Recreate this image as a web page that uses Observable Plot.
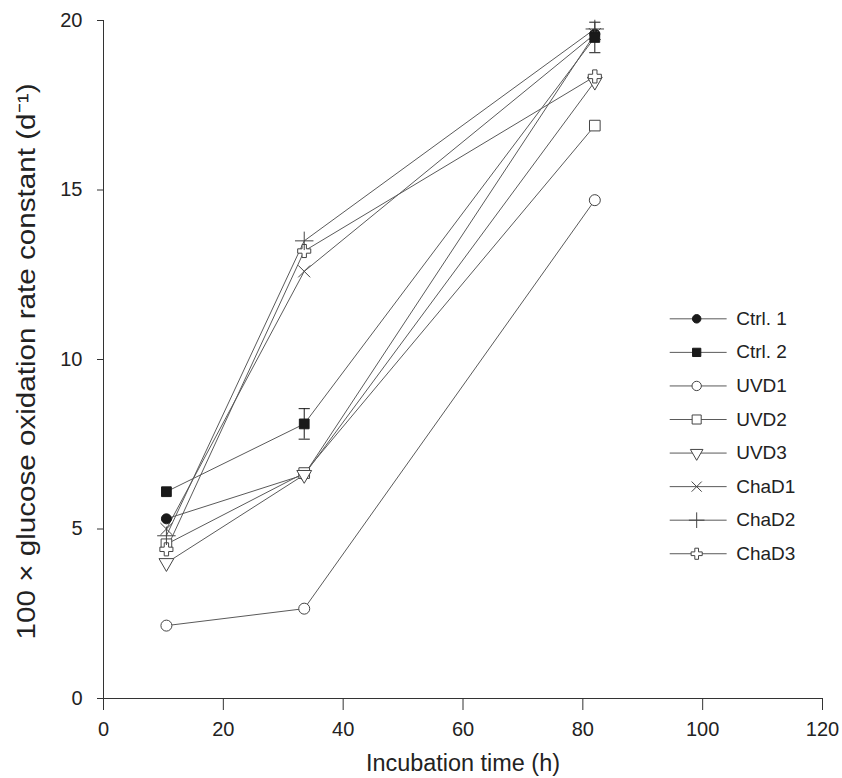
<!DOCTYPE html>
<html><head><meta charset="utf-8">
<script src="https://cdn.jsdelivr.net/npm/d3@7"></script>
<script src="https://cdn.jsdelivr.net/npm/@observablehq/plot@0.6"></script>
<style>body{margin:0;background:#fff}</style>
</head><body><div id="chart"></div>
<script>
// ---- data ----
const times = [10.5, 33.5, 82];
const seriesNames = ["Ctrl. 1", "Ctrl. 2", "UVD1", "UVD2", "UVD3", "ChaD1", "ChaD2", "ChaD3"];
const ctrl1 = [5.3, 6.6, 19.6];
const ctrl2 = [6.1, 8.1, 19.5];
const uvd1 = [2.15, 2.65, 14.7];
const uvd2 = [4.55, 6.65, 16.9];
const uvd3 = [4.0, 6.6, 18.2];
const chad1 = [5.0, 12.6, 19.6];
const chad2 = [4.8, 13.5, 19.75];
const chad3 = [4.4, 13.2, 18.35];
const ctrl2Err = [0, 0.45, 0.45];
const xTicks = [0, 20, 40, 60, 80, 100, 120];
const yTicks = [0, 5, 10, 15, 20];
const xLabel = "Incubation time (h)";
const yLabel = "100 × glucose oxidation rate constant (d⁻¹)";

// ---- symbols ----
const triangleDown = {
  draw(ctx, size) {
    const y = -Math.sqrt(size / (Math.sqrt(3) * 3));
    ctx.moveTo(0, -y * 2);
    ctx.lineTo(-Math.sqrt(3) * y, y);
    ctx.lineTo(Math.sqrt(3) * y, y);
    ctx.closePath();
  }
};
const hline = {
  draw(ctx, size) {
    const w = Math.sqrt(size) * 0.45;
    ctx.moveTo(-w, 0); ctx.lineTo(w, 0);
  }
};
const ink = "#1a1a1a";
const lineCol = "#5a5a5a";
const styles = [
  {symbol: "circle", fill: ink, stroke: ink, r: 5},
  {symbol: "square", fill: ink, stroke: ink, r: 5.5},
  {symbol: "circle", fill: "white", stroke: "#444", r: 5.5},
  {symbol: "square", fill: "white", stroke: "#444", r: 6},
  {symbol: triangleDown, fill: "white", stroke: "#444", r: 5.5},
  {symbol: "times", fill: "none", stroke: "#444", r: 5.5},
  {symbol: "plus", fill: "none", stroke: "#444", r: 6},
  {symbol: d3.symbolCross, fill: "white", stroke: "#444", r: 5.5}
];
const values = [ctrl1, ctrl2, uvd1, uvd2, uvd3, chad1, chad2, chad3];
const series = seriesNames.map((name, i) => ({
  name, points: times.map((t, j) => ({t, v: values[i][j]}))
}));
const errData = times.map((t, j) => ({t, e: ctrl2Err[j], lo: ctrl2[j] - ctrl2Err[j], hi: ctrl2[j] + ctrl2Err[j]})).filter(d => d.e > 0);
const errCaps = errData.flatMap(d => [{t: d.t, v: d.lo}, {t: d.t, v: d.hi}]);

// legend layout (in data units)
const legY = i => 11.2 - i * 0.99;
const legend = seriesNames.map((name, i) => ({name, y: legY(i)}));

const font = "'Liberation Sans', Arial, sans-serif";

const marks = [
  Plot.axisX({ticks: xTicks, tickSize: 12, tickPadding: 11, label: null, fontSize: 20, stroke: "#333"}),
  Plot.axisY({ticks: yTicks, tickSize: 6, tickPadding: 15, label: null, fontSize: 20, stroke: "#333"}),
  Plot.ruleX([0], {stroke: "#333"}),
  Plot.ruleY([0], {stroke: "#333"}),
  Plot.text([xLabel], {frameAnchor: "bottom", dy: 65, textAnchor: "middle", lineAnchor: "middle", fontSize: 23, fill: "#222", className: "xlab"}),
  Plot.text([yLabel], {frameAnchor: "left", dx: -77, dy: 2, rotate: -90, textAnchor: "middle", lineAnchor: "middle", fontSize: 26, fill: "#222", className: "ylab"}),
];
series.forEach((s, i) => {
  marks.push(Plot.line(s.points, {x: "t", y: "v", stroke: lineCol, strokeWidth: 1}));
});
marks.push(Plot.ruleX(errData, {x: "t", y1: "lo", y2: "hi", stroke: ink, strokeWidth: 1}));
marks.push(Plot.dot(errCaps, {x: "t", y: "v", symbol: hline, r: 7, stroke: ink, strokeWidth: 1}));
const drawOrder = [0, 2, 3, 4, 7, 5, 6, 1];
drawOrder.forEach(i => {
  const st = styles[i];
  marks.push(Plot.dot(series[i].points, {x: "t", y: "v", symbol: st.symbol, r: st.r, fill: st.fill, stroke: st.stroke, strokeWidth: 1}));
});
// legend
legend.forEach((d, i) => {
  const st = styles[i];
  marks.push(Plot.link([d], {x1: () => 94.5, x2: () => 104, y1: "y", y2: "y", stroke: lineCol, strokeWidth: 1}));
  marks.push(Plot.dot([d], {x: () => 99, y: "y", symbol: st.symbol, r: st.r * 0.85, fill: st.fill, stroke: st.stroke, strokeWidth: 1}));
  marks.push(Plot.text([d], {x: () => 105.6, y: "y", text: "name", textAnchor: "start", fontSize: 19, fill: "#222"}));
});

const chart = Plot.plot({
  width: 842, height: 778,
  marginLeft: 103, marginRight: 20, marginTop: 20, marginBottom: 80,
  style: {fontFamily: font, background: "#fff", color: "#222"},
  x: {domain: [0, 120]},
  y: {domain: [0, 20]},
  marks
});
document.getElementById("chart").appendChild(chart);
// fit the axis titles to the lengths they have in the reference (condensed type)
chart.querySelectorAll(".ylab text").forEach(t => {
  t.setAttribute("textLength", 556);
  t.setAttribute("lengthAdjust", "spacingAndGlyphs");
});
chart.querySelectorAll(".xlab text").forEach(t => {
  t.setAttribute("textLength", 194);
  t.setAttribute("lengthAdjust", "spacingAndGlyphs");
});
</script>
</body></html>
